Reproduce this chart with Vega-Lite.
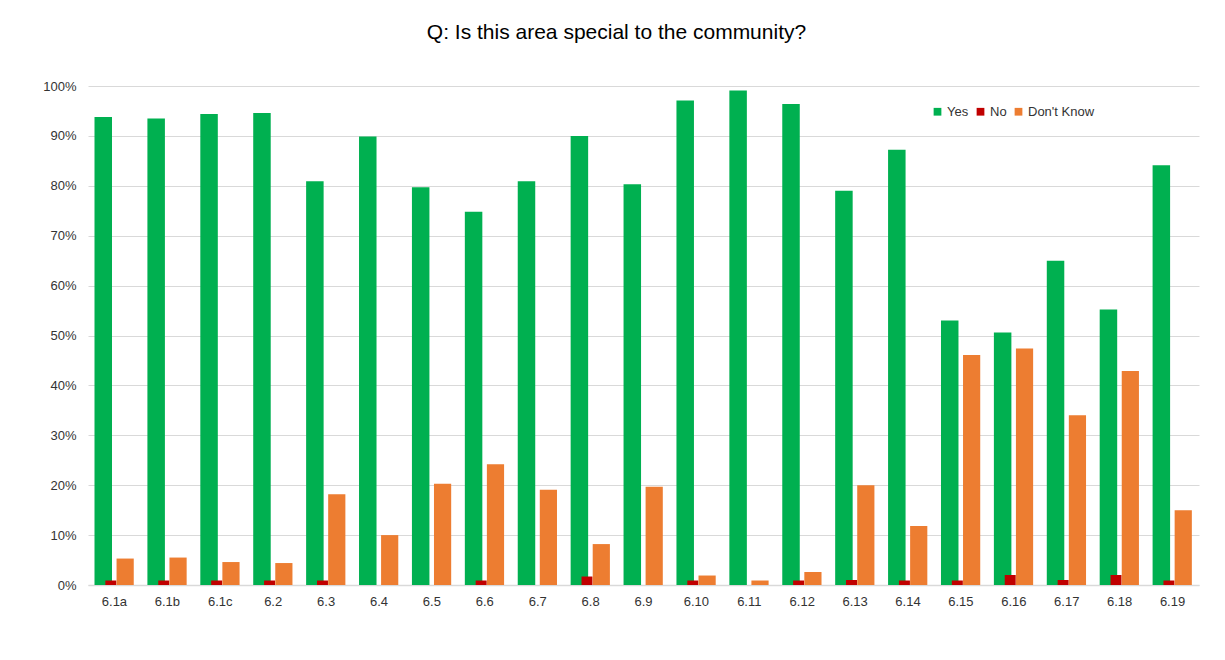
{
  "$schema": "https://vega.github.io/schema/vega-lite/v6.json",
  "width": 1111,
  "height": 499,
  "autosize": {"type": "none"},
  "padding": {"left": 88, "top": 86, "right": 26, "bottom": 75},
  "background": "#ffffff",
  "title": {
    "text": "Q: Is this area special to the community?",
    "font": "Liberation Sans",
    "fontSize": 21,
    "fontWeight": "normal",
    "color": "#000000",
    "anchor": "middle",
    "frame": "group",
    "dx": -27,
    "offset": 37
  },
  "data": {
    "values": [
      {"item": "6.1a", "response": "Yes", "pct": 93.8}, {"item": "6.1a", "response": "No", "pct": 0.9}, {"item": "6.1a", "response": "Don't Know", "pct": 5.3},
      {"item": "6.1b", "response": "Yes", "pct": 93.5}, {"item": "6.1b", "response": "No", "pct": 0.9}, {"item": "6.1b", "response": "Don't Know", "pct": 5.5},
      {"item": "6.1c", "response": "Yes", "pct": 94.4}, {"item": "6.1c", "response": "No", "pct": 0.9}, {"item": "6.1c", "response": "Don't Know", "pct": 4.6},
      {"item": "6.2", "response": "Yes", "pct": 94.6}, {"item": "6.2", "response": "No", "pct": 0.9}, {"item": "6.2", "response": "Don't Know", "pct": 4.4},
      {"item": "6.3", "response": "Yes", "pct": 80.9}, {"item": "6.3", "response": "No", "pct": 0.9}, {"item": "6.3", "response": "Don't Know", "pct": 18.2},
      {"item": "6.4", "response": "Yes", "pct": 89.9}, {"item": "6.4", "response": "No", "pct": 0}, {"item": "6.4", "response": "Don't Know", "pct": 10.0},
      {"item": "6.5", "response": "Yes", "pct": 79.7}, {"item": "6.5", "response": "No", "pct": 0}, {"item": "6.5", "response": "Don't Know", "pct": 20.3},
      {"item": "6.6", "response": "Yes", "pct": 74.8}, {"item": "6.6", "response": "No", "pct": 0.9}, {"item": "6.6", "response": "Don't Know", "pct": 24.2},
      {"item": "6.7", "response": "Yes", "pct": 80.9}, {"item": "6.7", "response": "No", "pct": 0}, {"item": "6.7", "response": "Don't Know", "pct": 19.1},
      {"item": "6.8", "response": "Yes", "pct": 90.0}, {"item": "6.8", "response": "No", "pct": 1.7}, {"item": "6.8", "response": "Don't Know", "pct": 8.2},
      {"item": "6.9", "response": "Yes", "pct": 80.3}, {"item": "6.9", "response": "No", "pct": 0}, {"item": "6.9", "response": "Don't Know", "pct": 19.7},
      {"item": "6.10", "response": "Yes", "pct": 97.1}, {"item": "6.10", "response": "No", "pct": 0.9}, {"item": "6.10", "response": "Don't Know", "pct": 1.9},
      {"item": "6.11", "response": "Yes", "pct": 99.1}, {"item": "6.11", "response": "No", "pct": 0}, {"item": "6.11", "response": "Don't Know", "pct": 0.9},
      {"item": "6.12", "response": "Yes", "pct": 96.4}, {"item": "6.12", "response": "No", "pct": 0.9}, {"item": "6.12", "response": "Don't Know", "pct": 2.6},
      {"item": "6.13", "response": "Yes", "pct": 79.0}, {"item": "6.13", "response": "No", "pct": 1.0}, {"item": "6.13", "response": "Don't Know", "pct": 20.0},
      {"item": "6.14", "response": "Yes", "pct": 87.2}, {"item": "6.14", "response": "No", "pct": 0.9}, {"item": "6.14", "response": "Don't Know", "pct": 11.8},
      {"item": "6.15", "response": "Yes", "pct": 53.0}, {"item": "6.15", "response": "No", "pct": 0.9}, {"item": "6.15", "response": "Don't Know", "pct": 46.1},
      {"item": "6.16", "response": "Yes", "pct": 50.6}, {"item": "6.16", "response": "No", "pct": 2.0}, {"item": "6.16", "response": "Don't Know", "pct": 47.4},
      {"item": "6.17", "response": "Yes", "pct": 65.0}, {"item": "6.17", "response": "No", "pct": 1.0}, {"item": "6.17", "response": "Don't Know", "pct": 34.0},
      {"item": "6.18", "response": "Yes", "pct": 55.2}, {"item": "6.18", "response": "No", "pct": 2.0}, {"item": "6.18", "response": "Don't Know", "pct": 42.9},
      {"item": "6.19", "response": "Yes", "pct": 84.1}, {"item": "6.19", "response": "No", "pct": 0.9}, {"item": "6.19", "response": "Don't Know", "pct": 15.0}
    ]
  },
  "config": {
    "view": {"stroke": null},
    "font": "Liberation Sans"
  },
  "encoding": {
    "x": {
      "field": "item",
      "type": "nominal",
      "sort": null,
      "scale": {"paddingInner": 0, "paddingOuter": 0},
      "axis": {
        "title": null,
        "labelAngle": 0,
        "labelFont": "Liberation Sans",
        "labelFontSize": 13,
        "labelColor": "#333333",
        "labelPadding": 10,
        "ticks": false,
        "domainColor": "#d9d9d9",
        "domainWidth": 1.3,
        "grid": false
      }
    },
    "y": {
      "field": "pct",
      "type": "quantitative",
      "scale": {"domain": [0, 100], "nice": false},
      "axis": {
        "title": null,
        "values": [0, 10, 20, 30, 40, 50, 60, 70, 80, 90, 100],
        "labelExpr": "datum.value + '%'",
        "labelFont": "Liberation Sans",
        "labelFontSize": 13,
        "labelColor": "#333333",
        "labelPadding": 12,
        "ticks": false,
        "domain": false,
        "grid": true,
        "gridColor": "#d9d9d9",
        "gridWidth": 1
      }
    },
    "color": {
      "field": "response",
      "type": "nominal",
      "scale": {
        "domain": ["Yes", "No", "Don't Know"],
        "range": ["#00b050", "#c00000", "#ed7d31"]
      },
      "legend": {
        "title": null,
        "orient": "none",
        "legendX": 843,
        "legendY": 19,
        "direction": "horizontal",
        "symbolType": "square",
        "symbolSize": 60,
        "symbolStrokeWidth": 0,
        "labelFont": "Liberation Sans",
        "labelFontSize": 13,
        "labelColor": "#333333",
        "labelOffset": 3,
        "columnPadding": 5
      }
    }
  },
  "layer": [
    {
      "transform": [{"filter": "datum.response === 'Yes'"}],
      "mark": {"type": "bar", "width": 17.5, "xOffset": -11.2}
    },
    {
      "transform": [{"filter": "datum.response === 'No'"}],
      "mark": {"type": "bar", "width": 11, "xOffset": -3.6}
    },
    {
      "transform": [{"filter": "datum.response === \"Don't Know\""}],
      "mark": {"type": "bar", "width": 17.2, "xOffset": 10.7}
    }
  ]
}
